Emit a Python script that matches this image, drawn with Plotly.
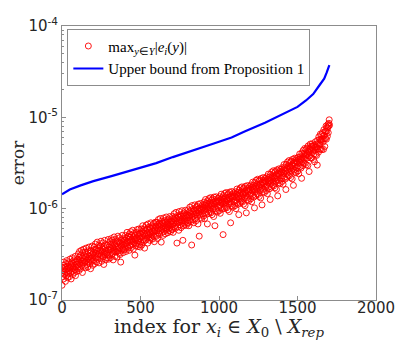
import plotly.graph_objects as go

# ---- red circles: max_y |e_i(y)|, read every 2nd index, values in units of 1e-7
err_step = 2
err_e7 = [
    # 0-98
    1.45, 2.1, 1.8, 2.4, 2.0, 1.7, 2.6, 2.2, 1.9, 2.3, 2.05, 1.6, 2.5, 2.15, 1.85, 2.7, 2.0, 2.35, 1.75, 2.2,
    2.55, 1.95, 2.3, 2.1, 1.8, 2.8, 2.25, 2.0, 2.45, 1.7, 2.35, 2.6, 2.05, 2.9, 2.2, 1.9, 2.5, 2.3, 2.75, 2.0,
    2.4, 2.15, 3.0, 1.85, 2.6, 2.3, 2.05, 2.7, 2.45, 2.2,
    # 100-198
    2.8, 2.3, 3.2, 2.6, 2.1, 2.95, 3.4, 2.5, 2.75, 2.2, 3.1, 2.65, 3.5, 2.4, 2.9, 2.0, 3.3, 2.7, 2.55, 3.6,
    2.85, 2.35, 3.05, 2.6, 3.35, 2.25, 2.95, 3.7, 2.7, 2.45, 3.15, 2.8, 2.3, 3.45, 2.9, 2.6, 3.8, 2.75, 3.0, 2.5,
    3.25, 2.2, 3.5, 2.85, 3.1, 2.65, 3.9, 2.95, 2.4, 3.2,
    # 200-298
    3.3, 2.7, 3.8, 3.05, 2.5, 3.55, 4.1, 2.9, 3.25, 3.6, 2.6, 3.4, 4.3, 3.0, 2.8, 3.7, 3.15, 4.0, 2.55, 3.45,
    3.2, 3.9, 2.85, 3.5, 4.4, 3.1, 2.65, 3.75, 3.35, 4.2, 2.95, 3.6, 3.0, 2.45, 3.85, 3.3, 4.5, 3.15, 3.65, 2.75,
    3.5, 4.05, 3.25, 2.9, 3.95, 3.4, 3.1, 4.6, 3.55, 2.8,
    # 300-398
    3.8, 3.1, 4.35, 3.5, 2.9, 4.1, 3.65, 4.7, 3.3, 3.95, 4.5, 3.2, 3.75, 2.75, 4.25, 3.55, 4.9, 3.4, 4.05, 3.0,
    3.85, 4.6, 3.35, 3.7, 4.15, 2.95, 4.4, 3.6, 5.0, 3.45, 3.9, 4.3, 3.25, 4.8, 3.75, 3.15, 4.2, 2.6, 4.55, 3.9,
    3.5, 4.1, 5.1, 3.65, 4.35, 3.3, 4.0, 4.7, 3.55, 4.25,
    # 400-498
    4.5, 3.6, 5.1, 4.1, 3.4, 4.75, 4.25, 5.5, 3.85, 4.4, 5.0, 3.7, 4.6, 4.95, 3.5, 5.3, 4.3, 4.85, 3.95, 5.6,
    4.45, 3.75, 5.15, 4.6, 4.05, 5.8, 4.35, 3.6, 4.9, 5.35, 4.2, 4.7, 3.1, 5.05, 4.55, 3.9, 5.5, 4.75, 4.15, 5.9,
    4.6, 5.2, 3.85, 4.95, 4.4, 6.0, 4.05, 5.4, 4.7, 3.8,
    # 500-598
    5.3, 4.3, 6.0, 4.85, 4.0, 5.6, 5.05, 6.5, 4.6, 5.4, 5.9, 4.4, 5.2, 3.7, 6.2, 5.0, 5.7, 4.55, 6.6, 5.3,
    4.75, 6.0, 5.45, 4.2, 6.8, 5.15, 5.8, 4.9, 6.3, 5.5, 4.5, 6.1, 5.35, 7.0, 4.8, 5.85, 5.2, 6.5, 4.65, 5.65,
    6.2, 5.0, 6.9, 5.55, 4.35, 6.05, 5.75, 7.1, 5.1, 6.4,
    # 600-698
    6.3, 5.0, 7.1, 5.7, 4.7, 6.7, 6.05, 7.6, 5.4, 6.45, 6.9, 5.2, 6.2, 7.8, 5.8, 6.6, 4.3, 7.3, 6.0, 5.5,
    7.0, 6.4, 5.1, 7.9, 6.15, 6.85, 5.65, 7.4, 6.5, 5.3, 7.15, 6.25, 8.1, 5.9, 6.75, 6.1, 7.5, 5.45, 6.95, 6.35,
    7.7, 5.75, 6.6, 8.2, 6.2, 7.05, 5.6, 7.35, 6.8, 5.95,
    # 700-798
    7.3, 5.9, 8.2, 6.7, 5.5, 7.8, 7.05, 8.8, 6.4, 7.5, 8.0, 6.1, 7.25, 9.1, 6.8, 7.7, 4.2, 8.4, 7.0, 6.3,
    8.1, 7.45, 5.8, 9.3, 7.2, 8.0, 6.6, 8.6, 7.6, 6.2, 8.3, 7.35, 9.5, 6.9, 7.9, 4.5, 8.75, 6.5, 8.15, 7.4,
    9.0, 6.75, 7.85, 9.6, 7.25, 8.3, 6.55, 8.55, 8.0, 7.0,
    # 800-898
    8.6, 6.9, 9.7, 7.9, 6.5, 9.2, 8.35, 10.4, 7.5, 8.9, 9.5, 7.2, 8.6, 4.0, 10.8, 8.1, 9.2, 7.6, 10.0, 8.8,
    7.0, 9.65, 8.45, 11.0, 7.8, 9.4, 8.7, 10.3, 7.4, 9.0, 10.6, 8.25, 9.75, 6.8, 11.2, 8.9, 9.35, 5.0, 10.1, 8.5,
    9.9, 11.4, 8.0, 9.6, 10.5, 7.7, 9.85, 11.0, 8.7, 10.2,
    # 900-998
    10.5, 8.3, 11.8, 9.6, 7.8, 11.1, 10.1, 12.6, 9.1, 10.8, 11.5, 8.7, 10.4, 6.8, 12.2, 9.8, 11.0, 8.9, 12.9, 10.6,
    9.3, 11.7, 10.2, 13.2, 9.0, 11.3, 10.7, 12.4, 8.6, 10.9, 12.8, 9.9, 11.6, 8.2, 13.4, 10.5, 11.2, 6.5, 12.1, 10.0,
    11.8, 13.5, 9.5, 11.4, 12.5, 9.2, 11.9, 13.0, 10.3, 12.2,
    # 1000-1098
    12.0, 9.5, 13.5, 10.9, 8.9, 12.7, 11.6, 14.4, 10.3, 12.3, 13.1, 9.9, 11.8, 5.2, 13.9, 11.2, 12.6, 10.1, 14.7, 12.1,
    10.6, 13.4, 11.7, 15.0, 10.2, 12.9, 12.2, 14.2, 9.7, 12.5, 14.6, 11.3, 13.2, 9.3, 15.2, 11.9, 12.8, 7.0, 13.8, 11.4,
    13.5, 15.4, 10.8, 13.0, 14.3, 10.4, 13.6, 14.9, 11.8, 13.9,
    # 1100-1198
    13.6, 10.8, 15.3, 12.3, 10.0, 14.5, 13.2, 16.4, 11.7, 14.0, 15.0, 11.2, 13.5, 8.6, 16.0, 12.8, 14.5, 11.5, 16.9, 13.9,
    12.1, 15.4, 13.4, 17.3, 11.8, 14.8, 14.1, 16.5, 11.2, 14.4, 16.9, 13.1, 15.3, 10.8, 17.6, 13.8, 14.9, 9.0, 16.1, 13.3,
    15.8, 17.9, 12.6, 15.2, 16.7, 12.2, 15.9, 17.5, 13.9, 16.4,
    # 1200-1298
    16.2, 12.8, 18.2, 14.7, 11.9, 17.3, 15.8, 19.5, 14.0, 16.8, 18.0, 13.4, 16.3, 10.2, 19.3, 15.4, 17.5, 13.9, 20.4, 16.8,
    14.6, 18.6, 16.2, 21.0, 14.3, 17.9, 17.1, 20.0, 13.6, 17.5, 20.6, 15.9, 18.6, 13.1, 21.4, 16.8, 18.2, 11.0, 19.7, 16.3,
    19.3, 21.9, 15.4, 18.6, 20.5, 15.0, 19.5, 21.5, 17.1, 20.2,
    # 1300-1398
    19.9, 15.8, 22.3, 18.0, 14.6, 21.2, 19.4, 23.9, 17.2, 20.6, 22.1, 16.5, 20.1, 12.6, 23.8, 19.0, 21.6, 17.2, 25.2, 20.8,
    18.1, 23.0, 20.0, 26.0, 17.7, 22.2, 21.2, 24.8, 16.9, 21.7, 25.6, 19.8, 23.1, 16.3, 26.6, 20.9, 22.7, 13.8, 24.5, 20.3,
    24.1, 27.3, 19.2, 23.2, 25.6, 18.8, 24.4, 26.9, 21.4, 25.3,
    # 1400-1498
    25.1, 19.9, 28.2, 22.8, 18.5, 26.9, 24.6, 30.4, 21.9, 26.3, 28.2, 21.1, 25.7, 16.2, 30.5, 24.4, 27.7, 22.1, 32.4, 26.8,
    23.3, 29.6, 25.8, 33.6, 22.9, 28.7, 27.5, 32.1, 21.9, 28.2, 33.2, 25.8, 30.1, 21.2, 34.7, 27.2, 29.6, 18.0, 32.0, 26.5,
    31.5, 35.7, 25.1, 30.4, 33.6, 24.7, 32.1, 35.4, 28.2, 33.4,
    # 1500-1598
    32.5, 25.8, 36.6, 29.6, 24.1, 35.0, 32.1, 39.7, 28.7, 34.5, 37.1, 27.8, 34.0, 21.5, 40.5, 32.5, 37.0, 29.6, 43.4, 36.0,
    31.4, 40.0, 35.0, 45.6, 31.2, 39.2, 37.7, 44.1, 30.2, 39.0, 46.0, 35.9, 42.0, 29.7, 48.7, 38.3, 41.8, 25.5, 45.4, 37.7,
    45.0, 51.0, 36.0, 43.7, 48.4, 35.7, 46.5, 51.4, 41.1, 48.7,
    # 1600-1698
    43.5, 34.6, 49.0, 39.8, 32.6, 47.3, 43.6, 54.0, 39.2, 47.2, 51.0, 38.3, 47.0, 30.0, 56.2, 45.3, 51.8, 41.6, 61.2, 50.9,
    44.6, 57.0, 50.2, 65.6, 45.0, 56.8, 55.0, 64.4, 44.3, 57.5, 68.0, 53.4, 62.8, 44.6, 73.2, 58.0, 63.8, 48.0, 70.0, 58.5,
    70.6, 80.5, 57.6, 70.0, 78.0, 62.0, 76.0, 84.0, 68.0, 80.0,
    # 1700-1704
    86.0, 94.0, 82.0,
]
err_index = [i * err_step for i in range(len(err_e7))]
err_values = [v * 1e-7 for v in err_e7]

# ---- blue line: upper bound from Proposition 1 (values in units of 1e-6)
bound_index = [0, 20, 50, 119, 200, 315, 400, 511, 600, 706, 850, 967, 1080, 1163,
               1293, 1424, 1500, 1554, 1600, 1641, 1670, 1685, 1703]
bound_e6 = [1.44, 1.52, 1.62, 1.80, 2.0, 2.27, 2.5, 2.83, 3.15, 3.67, 4.4, 5.18, 6.0, 7.0,
            8.7, 11.1, 13.0, 15.3, 18.0, 22.6, 26.5, 30.6, 37.2]
bound_values = [v * 1e-6 for v in bound_e6]

x_ticks = [0, 500, 1000, 1500, 2000]
y_ticks = [1e-7, 1e-6, 1e-5, 1e-4]
y_tick_text = ["10<sup>-7</sup>", "10<sup>-6</sup>", "10<sup>-5</sup>", "10<sup>-4</sup>"]
y_minor = [m * 10.0 ** e for e in (-7, -6, -5) for m in range(2, 10)]

SERIF = "DejaVu Serif"

fig = go.Figure()
fig.add_trace(go.Scatter(
    x=err_index, y=err_values, mode="markers",
    name="max<sub><i>y</i>∈<i>Y</i></sub>|<i>e<sub>i</sub></i>(<i>y</i>)|",
    marker=dict(symbol="circle-open", size=6, color="#ff0000", line=dict(width=0.9, color="#ff0000")),
))
fig.add_trace(go.Scatter(
    x=bound_index, y=bound_values, mode="lines",
    name="Upper bound from Proposition 1",
    line=dict(color="#0000ff", width=2.2),
))

axis_common = dict(
    showline=True, mirror=True, linecolor="#8c8c8c", linewidth=1,
    ticks="inside", tickcolor="#8c8c8c", showgrid=False, zeroline=False,
    automargin=False,
    tickfont=dict(family="DejaVu Sans", size=15, color="#262626"),
)
fig.update_xaxes(
    range=[0, 2000], tickvals=x_ticks, ticklen=4, ticklabelstandoff=-6,
    title=dict(text="index for <i>x<sub>i</sub></i> ∈ <i>X</i><sub>0</sub> \\ <i>X<sub>rep</sub></i>",
               font=dict(family=SERIF, size=19, color="#262626"), standoff=0),
    **axis_common,
)
fig.update_yaxes(
    type="log", range=[-7, -4], tickvals=y_ticks, ticktext=y_tick_text, ticklen=4,
    minor=dict(tickvals=y_minor, ticks="inside", ticklen=2, tickcolor="#8c8c8c"),
    title=dict(text="error", font=dict(family=SERIF, size=17, color="#262626"), standoff=6),
    **axis_common,
)
# the page body adds an 8px offset, so the figure is 8px smaller and shifted margins
fig.update_layout(
    width=399, height=332,
    margin=dict(l=54, r=31, t=18, b=40),
    plot_bgcolor="white", paper_bgcolor="white",
    legend=dict(x=0.017, y=0.99, xanchor="left", yanchor="top",
                bgcolor="white", bordercolor="#8c8c8c", borderwidth=1,
                font=dict(family="Liberation Serif", size=15, color="#000000"),
                itemwidth=30, tracegroupgap=0),
    showlegend=True,
)
fig.write_html("out.html")
